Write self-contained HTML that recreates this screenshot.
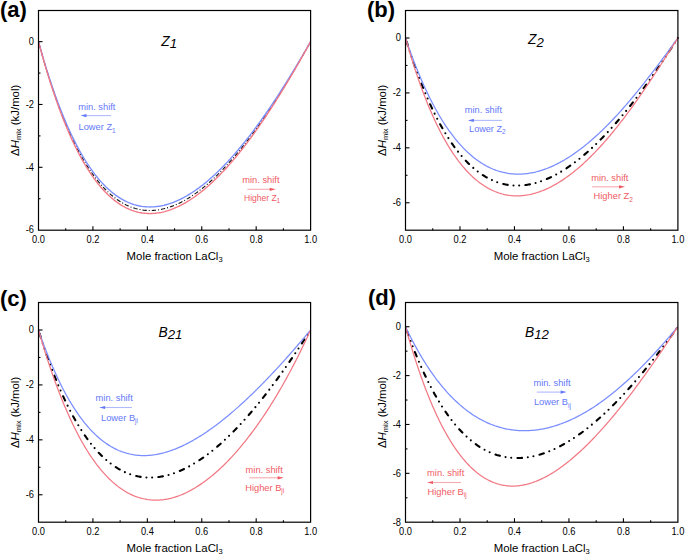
<!DOCTYPE html>
<html><head><meta charset="utf-8"><style>
html,body{margin:0;padding:0;background:#fff;}
svg{display:block;}
text{font-family:"Liberation Sans", sans-serif;}
.tl{font-size:10.2px;fill:#000;}
.at{font-size:11.4px;fill:#000;}
.pl{font-size:22px;font-weight:bold;fill:#000;}
.tt{font-size:13.8px;font-style:italic;fill:#000;}
.an{}
</style></head><body>
<svg width="685" height="556" viewBox="0 0 685 556">
<rect width="685" height="556" fill="#fff"/>
<polyline points="38.50,41.65 39.64,45.84 40.78,49.95 41.92,54.00 43.05,57.97 44.19,61.88 45.33,65.72 46.47,69.49 47.61,73.19 48.75,76.83 49.88,80.41 51.02,83.92 52.16,87.36 53.30,90.75 54.44,94.07 55.58,97.33 56.72,100.53 57.85,103.67 58.99,106.75 60.13,109.78 61.27,112.74 62.41,115.65 63.55,118.50 64.69,121.30 65.82,124.04 66.96,126.72 68.10,129.36 69.24,131.93 70.38,134.46 71.52,136.94 72.65,139.36 73.79,141.73 74.93,144.05 76.07,146.32 77.21,148.55 78.35,150.72 79.49,152.85 80.62,154.93 81.76,156.96 82.90,158.95 84.04,160.89 85.18,162.79 86.32,164.64 87.46,166.44 88.59,168.21 89.73,169.93 90.87,171.60 92.01,173.24 93.15,174.83 94.29,176.39 95.42,177.90 96.56,179.37 97.70,180.80 98.84,182.19 99.98,183.55 101.12,184.86 102.26,186.14 103.39,187.38 104.53,188.58 105.67,189.75 106.81,190.88 107.95,191.97 109.09,193.03 110.23,194.05 111.36,195.04 112.50,195.99 113.64,196.91 114.78,197.80 115.92,198.66 117.06,199.48 118.19,200.26 119.33,201.02 120.47,201.75 121.61,202.44 122.75,203.10 123.89,203.73 125.03,204.34 126.16,204.91 127.30,205.45 128.44,205.96 129.58,206.44 130.72,206.90 131.86,207.32 132.99,207.72 134.13,208.09 135.27,208.44 136.41,208.75 137.55,209.04 138.69,209.30 139.83,209.54 140.96,209.75 142.10,209.93 143.24,210.09 144.38,210.22 145.52,210.33 146.66,210.41 147.80,210.47 148.93,210.50 150.07,210.51 151.21,210.49 152.35,210.46 153.49,210.39 154.63,210.31 155.76,210.20 156.90,210.07 158.04,209.92 159.18,209.74 160.32,209.54 161.46,209.32 162.60,209.08 163.73,208.82 164.87,208.53 166.01,208.23 167.15,207.90 168.29,207.55 169.43,207.18 170.57,206.79 171.70,206.39 172.84,205.96 173.98,205.51 175.12,205.04 176.26,204.55 177.40,204.04 178.53,203.51 179.67,202.97 180.81,202.40 181.95,201.82 183.09,201.22 184.23,200.59 185.37,199.95 186.50,199.30 187.64,198.62 188.78,197.93 189.92,197.21 191.06,196.49 192.20,195.74 193.34,194.97 194.47,194.19 195.61,193.39 196.75,192.58 197.89,191.74 199.03,190.89 200.17,190.03 201.30,189.14 202.44,188.24 203.58,187.33 204.72,186.39 205.86,185.44 207.00,184.48 208.14,183.50 209.27,182.50 210.41,181.49 211.55,180.46 212.69,179.42 213.83,178.36 214.97,177.28 216.11,176.19 217.24,175.09 218.38,173.97 219.52,172.83 220.66,171.68 221.80,170.52 222.94,169.34 224.07,168.15 225.21,166.94 226.35,165.72 227.49,164.48 228.63,163.23 229.77,161.96 230.91,160.68 232.04,159.39 233.18,158.08 234.32,156.76 235.46,155.43 236.60,154.08 237.74,152.72 238.87,151.34 240.01,149.95 241.15,148.55 242.29,147.13 243.43,145.71 244.57,144.26 245.71,142.81 246.84,141.34 247.98,139.86 249.12,138.37 250.26,136.86 251.40,135.35 252.54,133.82 253.68,132.27 254.81,130.72 255.95,129.15 257.09,127.57 258.23,125.98 259.37,124.38 260.51,122.76 261.64,121.14 262.78,119.50 263.92,117.85 265.06,116.19 266.20,114.52 267.34,112.83 268.48,111.14 269.61,109.43 270.75,107.71 271.89,105.99 273.03,104.25 274.17,102.50 275.31,100.74 276.45,98.97 277.58,97.19 278.72,95.40 279.86,93.60 281.00,91.79 282.14,89.97 283.28,88.14 284.41,86.30 285.55,84.45 286.69,82.59 287.83,80.73 288.97,78.85 290.11,76.97 291.25,75.07 292.38,73.17 293.52,71.26 294.66,69.34 295.80,67.41 296.94,65.47 298.08,63.53 299.22,61.57 300.35,59.61 301.49,57.65 302.63,55.67 303.77,53.69 304.91,51.70 306.05,49.70 307.18,47.70 308.32,45.69 309.46,43.67 310.60,41.65" fill="none" stroke="#111" stroke-width="1.1" stroke-dasharray="4.3 2 1 2" stroke-dashoffset="-2.3"/>
<polyline points="38.50,41.65 39.64,45.75 40.78,49.78 41.92,53.74 43.05,57.63 44.19,61.45 45.33,65.21 46.47,68.90 47.61,72.53 48.75,76.09 49.88,79.59 51.02,83.03 52.16,86.40 53.30,89.72 54.44,92.97 55.58,96.16 56.72,99.29 57.85,102.37 58.99,105.39 60.13,108.34 61.27,111.25 62.41,114.09 63.55,116.89 64.69,119.62 65.82,122.31 66.96,124.94 68.10,127.51 69.24,130.04 70.38,132.51 71.52,134.93 72.65,137.31 73.79,139.63 74.93,141.90 76.07,144.13 77.21,146.30 78.35,148.43 79.49,150.51 80.62,152.55 81.76,154.54 82.90,156.49 84.04,158.39 85.18,160.24 86.32,162.05 87.46,163.82 88.59,165.55 89.73,167.23 90.87,168.87 92.01,170.48 93.15,172.04 94.29,173.56 95.42,175.04 96.56,176.48 97.70,177.88 98.84,179.24 99.98,180.57 101.12,181.85 102.26,183.10 103.39,184.32 104.53,185.50 105.67,186.64 106.81,187.74 107.95,188.81 109.09,189.85 110.23,190.85 111.36,191.82 112.50,192.75 113.64,193.65 114.78,194.52 115.92,195.36 117.06,196.16 118.19,196.93 119.33,197.67 120.47,198.38 121.61,199.06 122.75,199.71 123.89,200.33 125.03,200.92 126.16,201.48 127.30,202.01 128.44,202.51 129.58,202.98 130.72,203.43 131.86,203.85 132.99,204.24 134.13,204.60 135.27,204.93 136.41,205.24 137.55,205.52 138.69,205.78 139.83,206.01 140.96,206.22 142.10,206.40 143.24,206.55 144.38,206.68 145.52,206.78 146.66,206.86 147.80,206.92 148.93,206.95 150.07,206.96 151.21,206.95 152.35,206.91 153.49,206.85 154.63,206.77 155.76,206.66 156.90,206.53 158.04,206.38 159.18,206.21 160.32,206.02 161.46,205.80 162.60,205.56 163.73,205.31 164.87,205.03 166.01,204.73 167.15,204.41 168.29,204.07 169.43,203.71 170.57,203.33 171.70,202.93 172.84,202.51 173.98,202.07 175.12,201.61 176.26,201.13 177.40,200.63 178.53,200.12 179.67,199.58 180.81,199.03 181.95,198.46 183.09,197.87 184.23,197.26 185.37,196.63 186.50,195.99 187.64,195.32 188.78,194.64 189.92,193.95 191.06,193.23 192.20,192.50 193.34,191.75 194.47,190.99 195.61,190.21 196.75,189.41 197.89,188.59 199.03,187.76 200.17,186.91 201.30,186.04 202.44,185.16 203.58,184.27 204.72,183.35 205.86,182.42 207.00,181.48 208.14,180.52 209.27,179.54 210.41,178.55 211.55,177.55 212.69,176.52 213.83,175.49 214.97,174.44 216.11,173.37 217.24,172.29 218.38,171.19 219.52,170.08 220.66,168.95 221.80,167.81 222.94,166.66 224.07,165.49 225.21,164.31 226.35,163.11 227.49,161.90 228.63,160.67 229.77,159.44 230.91,158.18 232.04,156.92 233.18,155.64 234.32,154.34 235.46,153.04 236.60,151.72 237.74,150.38 238.87,149.04 240.01,147.68 241.15,146.30 242.29,144.92 243.43,143.52 244.57,142.11 245.71,140.68 246.84,139.25 247.98,137.80 249.12,136.34 250.26,134.86 251.40,133.38 252.54,131.88 253.68,130.37 254.81,128.85 255.95,127.31 257.09,125.77 258.23,124.21 259.37,122.64 260.51,121.06 261.64,119.47 262.78,117.86 263.92,116.25 265.06,114.62 266.20,112.99 267.34,111.34 268.48,109.68 269.61,108.01 270.75,106.33 271.89,104.64 273.03,102.93 274.17,101.22 275.31,99.50 276.45,97.77 277.58,96.03 278.72,94.27 279.86,92.51 281.00,90.74 282.14,88.96 283.28,87.16 284.41,85.36 285.55,83.55 286.69,81.74 287.83,79.91 288.97,78.07 290.11,76.22 291.25,74.37 292.38,72.51 293.52,70.63 294.66,68.75 295.80,66.87 296.94,64.97 298.08,63.07 299.22,61.16 300.35,59.24 301.49,57.31 302.63,55.38 303.77,53.44 304.91,51.49 306.05,49.53 307.18,47.57 308.32,45.60 309.46,43.63 310.60,41.65" fill="none" stroke="#7A8EFF" stroke-width="1.35"/>
<polyline points="38.50,41.65 39.64,45.91 40.78,50.10 41.92,54.22 43.05,58.27 44.19,62.24 45.33,66.15 46.47,69.99 47.61,73.76 48.75,77.47 49.88,81.10 51.02,84.68 52.16,88.19 53.30,91.63 54.44,95.01 55.58,98.33 56.72,101.59 57.85,104.79 58.99,107.92 60.13,111.00 61.27,114.02 62.41,116.98 63.55,119.88 64.69,122.73 65.82,125.52 66.96,128.25 68.10,130.93 69.24,133.56 70.38,136.13 71.52,138.65 72.65,141.12 73.79,143.53 74.93,145.90 76.07,148.21 77.21,150.47 78.35,152.69 79.49,154.85 80.62,156.97 81.76,159.04 82.90,161.06 84.04,163.04 85.18,164.97 86.32,166.85 87.46,168.69 88.59,170.48 89.73,172.24 90.87,173.94 92.01,175.61 93.15,177.23 94.29,178.81 95.42,180.35 96.56,181.85 97.70,183.30 98.84,184.72 99.98,186.10 101.12,187.44 102.26,188.74 103.39,190.00 104.53,191.23 105.67,192.41 106.81,193.56 107.95,194.68 109.09,195.75 110.23,196.79 111.36,197.80 112.50,198.77 113.64,199.71 114.78,200.61 115.92,201.48 117.06,202.32 118.19,203.12 119.33,203.89 120.47,204.63 121.61,205.33 122.75,206.01 123.89,206.65 125.03,207.26 126.16,207.85 127.30,208.40 128.44,208.92 129.58,209.41 130.72,209.87 131.86,210.31 132.99,210.71 134.13,211.09 135.27,211.44 136.41,211.76 137.55,212.05 138.69,212.32 139.83,212.56 140.96,212.77 142.10,212.96 143.24,213.12 144.38,213.25 145.52,213.36 146.66,213.45 147.80,213.50 148.93,213.54 150.07,213.55 151.21,213.53 152.35,213.49 153.49,213.43 154.63,213.34 155.76,213.23 156.90,213.10 158.04,212.94 159.18,212.77 160.32,212.56 161.46,212.34 162.60,212.09 163.73,211.83 164.87,211.54 166.01,211.22 167.15,210.89 168.29,210.54 169.43,210.16 170.57,209.77 171.70,209.35 172.84,208.91 173.98,208.46 175.12,207.98 176.26,207.48 177.40,206.97 178.53,206.43 179.67,205.87 180.81,205.30 181.95,204.70 183.09,204.09 184.23,203.46 185.37,202.80 186.50,202.13 187.64,201.45 188.78,200.74 189.92,200.01 191.06,199.27 192.20,198.51 193.34,197.73 194.47,196.94 195.61,196.12 196.75,195.29 197.89,194.44 199.03,193.58 200.17,192.70 201.30,191.80 202.44,190.88 203.58,189.95 204.72,189.00 205.86,188.03 207.00,187.05 208.14,186.05 209.27,185.04 210.41,184.01 211.55,182.96 212.69,181.90 213.83,180.82 214.97,179.72 216.11,178.62 217.24,177.49 218.38,176.35 219.52,175.20 220.66,174.03 221.80,172.84 222.94,171.64 224.07,170.42 225.21,169.19 226.35,167.95 227.49,166.69 228.63,165.42 229.77,164.13 230.91,162.83 232.04,161.51 233.18,160.18 234.32,158.83 235.46,157.47 236.60,156.10 237.74,154.71 238.87,153.31 240.01,151.90 241.15,150.47 242.29,149.03 243.43,147.58 244.57,146.11 245.71,144.63 246.84,143.14 247.98,141.63 249.12,140.11 250.26,138.58 251.40,137.03 252.54,135.47 253.68,133.90 254.81,132.32 255.95,130.73 257.09,129.12 258.23,127.50 259.37,125.87 260.51,124.22 261.64,122.57 262.78,120.90 263.92,119.22 265.06,117.53 266.20,115.83 267.34,114.11 268.48,112.39 269.61,110.65 270.75,108.90 271.89,107.15 273.03,105.38 274.17,103.60 275.31,101.80 276.45,100.00 277.58,98.19 278.72,96.37 279.86,94.54 281.00,92.69 282.14,90.84 283.28,88.98 284.41,87.11 285.55,85.22 286.69,83.33 287.83,81.43 288.97,79.52 290.11,77.60 291.25,75.67 292.38,73.74 293.52,71.79 294.66,69.83 295.80,67.87 296.94,65.90 298.08,63.92 299.22,61.93 300.35,59.94 301.49,57.93 302.63,55.92 303.77,53.91 304.91,51.88 306.05,49.85 307.18,47.81 308.32,45.76 309.46,43.71 310.60,41.65" fill="none" stroke="#F27884" stroke-width="1.35"/>
<rect x="38.5" y="10.5" width="272.1" height="219.7" fill="none" stroke="#000" stroke-width="1.2"/>
<text transform="translate(38.50,242.7) scale(0.91,1)" text-anchor="middle" class="tl">0.0</text>
<line x1="65.71" y1="230.2" x2="65.71" y2="228.2" stroke="#000" stroke-width="1.1"/>
<line x1="92.92" y1="230.2" x2="92.92" y2="226.2" stroke="#000" stroke-width="1.1"/>
<text transform="translate(92.92,242.7) scale(0.91,1)" text-anchor="middle" class="tl">0.2</text>
<line x1="120.13" y1="230.2" x2="120.13" y2="228.2" stroke="#000" stroke-width="1.1"/>
<line x1="147.34" y1="230.2" x2="147.34" y2="226.2" stroke="#000" stroke-width="1.1"/>
<text transform="translate(147.34,242.7) scale(0.91,1)" text-anchor="middle" class="tl">0.4</text>
<line x1="174.55" y1="230.2" x2="174.55" y2="228.2" stroke="#000" stroke-width="1.1"/>
<line x1="201.76" y1="230.2" x2="201.76" y2="226.2" stroke="#000" stroke-width="1.1"/>
<text transform="translate(201.76,242.7) scale(0.91,1)" text-anchor="middle" class="tl">0.6</text>
<line x1="228.97" y1="230.2" x2="228.97" y2="228.2" stroke="#000" stroke-width="1.1"/>
<line x1="256.18" y1="230.2" x2="256.18" y2="226.2" stroke="#000" stroke-width="1.1"/>
<text transform="translate(256.18,242.7) scale(0.91,1)" text-anchor="middle" class="tl">0.8</text>
<line x1="283.39" y1="230.2" x2="283.39" y2="228.2" stroke="#000" stroke-width="1.1"/>
<text transform="translate(310.60,242.7) scale(0.91,1)" text-anchor="middle" class="tl">1.0</text>
<text transform="translate(33.9,233.44) scale(0.91,1)" text-anchor="end" class="tl">-6</text>
<line x1="38.5" y1="198.72" x2="40.5" y2="198.72" stroke="#000" stroke-width="1.1"/>
<line x1="38.5" y1="167.31" x2="42.5" y2="167.31" stroke="#000" stroke-width="1.1"/>
<text transform="translate(33.9,170.61) scale(0.91,1)" text-anchor="end" class="tl">-4</text>
<line x1="38.5" y1="135.90" x2="40.5" y2="135.90" stroke="#000" stroke-width="1.1"/>
<line x1="38.5" y1="104.48" x2="42.5" y2="104.48" stroke="#000" stroke-width="1.1"/>
<text transform="translate(33.9,107.78) scale(0.91,1)" text-anchor="end" class="tl">-2</text>
<line x1="38.5" y1="73.06" x2="40.5" y2="73.06" stroke="#000" stroke-width="1.1"/>
<line x1="38.5" y1="41.65" x2="42.5" y2="41.65" stroke="#000" stroke-width="1.1"/>
<text transform="translate(33.9,44.95) scale(0.91,1)" text-anchor="end" class="tl">0</text>
<text x="174.6" y="259.7" text-anchor="middle" class="at">Mole fraction LaCl<tspan dy="2.6" font-size="7.5">3</tspan></text>
<text transform="translate(18.7,120.3) rotate(-90)" text-anchor="middle" class="at">&#916;<tspan font-style="italic">H</tspan><tspan dy="2.6" font-size="7.5">mix</tspan><tspan dy="-2.6"> (kJ/mol)</tspan></text>
<polyline points="405.50,38.00 406.64,41.66 407.78,45.26 408.92,48.79 410.06,52.27 411.20,55.68 412.34,59.04 413.48,62.33 414.62,65.57 415.76,68.75 416.90,71.88 418.04,74.95 419.18,77.96 420.32,80.92 421.46,83.82 422.60,86.67 423.74,89.47 424.88,92.21 426.02,94.91 427.16,97.55 428.29,100.14 429.43,102.68 430.57,105.18 431.71,107.62 432.85,110.01 433.99,112.36 435.13,114.66 436.27,116.92 437.41,119.13 438.55,121.29 439.69,123.41 440.83,125.48 441.97,127.51 443.11,129.50 444.25,131.44 445.39,133.34 446.53,135.20 447.67,137.02 448.81,138.80 449.95,140.53 451.09,142.23 452.23,143.89 453.37,145.50 454.51,147.08 455.65,148.62 456.79,150.13 457.93,151.59 459.07,153.02 460.21,154.42 461.35,155.77 462.49,157.09 463.63,158.38 464.77,159.63 465.91,160.85 467.05,162.03 468.19,163.18 469.33,164.30 470.47,165.38 471.61,166.43 472.75,167.45 473.88,168.44 475.02,169.40 476.16,170.32 477.30,171.21 478.44,172.08 479.58,172.91 480.72,173.72 481.86,174.49 483.00,175.24 484.14,175.96 485.28,176.65 486.42,177.31 487.56,177.94 488.70,178.55 489.84,179.13 490.98,179.68 492.12,180.20 493.26,180.70 494.40,181.18 495.54,181.62 496.68,182.05 497.82,182.44 498.96,182.82 500.10,183.17 501.24,183.49 502.38,183.79 503.52,184.06 504.66,184.32 505.80,184.54 506.94,184.75 508.08,184.93 509.22,185.09 510.36,185.23 511.50,185.35 512.64,185.44 513.78,185.51 514.92,185.56 516.06,185.59 517.20,185.60 518.34,185.59 519.47,185.55 520.61,185.50 521.75,185.42 522.89,185.33 524.03,185.22 525.17,185.08 526.31,184.93 527.45,184.75 528.59,184.56 529.73,184.35 530.87,184.12 532.01,183.87 533.15,183.60 534.29,183.32 535.43,183.02 536.57,182.69 537.71,182.35 538.85,182.00 539.99,181.62 541.13,181.23 542.27,180.82 543.41,180.39 544.55,179.95 545.69,179.49 546.83,179.01 547.97,178.52 549.11,178.00 550.25,177.48 551.39,176.93 552.53,176.38 553.67,175.80 554.81,175.21 555.95,174.60 557.09,173.98 558.23,173.34 559.37,172.69 560.51,172.02 561.65,171.34 562.79,170.64 563.93,169.92 565.06,169.20 566.20,168.45 567.34,167.70 568.48,166.92 569.62,166.14 570.76,165.34 571.90,164.52 573.04,163.69 574.18,162.85 575.32,161.99 576.46,161.12 577.60,160.23 578.74,159.34 579.88,158.42 581.02,157.50 582.16,156.56 583.30,155.61 584.44,154.64 585.58,153.66 586.72,152.67 587.86,151.66 589.00,150.65 590.14,149.62 591.28,148.57 592.42,147.52 593.56,146.45 594.70,145.37 595.84,144.27 596.98,143.17 598.12,142.05 599.26,140.92 600.40,139.77 601.54,138.62 602.68,137.45 603.82,136.27 604.96,135.08 606.10,133.88 607.24,132.67 608.38,131.44 609.52,130.20 610.65,128.95 611.79,127.69 612.93,126.42 614.07,125.14 615.21,123.85 616.35,122.54 617.49,121.23 618.63,119.90 619.77,118.56 620.91,117.21 622.05,115.85 623.19,114.48 624.33,113.10 625.47,111.71 626.61,110.31 627.75,108.90 628.89,107.48 630.03,106.05 631.17,104.61 632.31,103.15 633.45,101.69 634.59,100.22 635.73,98.74 636.87,97.25 638.01,95.75 639.15,94.24 640.29,92.72 641.43,91.19 642.57,89.65 643.71,88.11 644.85,86.55 645.99,84.98 647.13,83.41 648.27,81.83 649.41,80.24 650.55,78.64 651.69,77.03 652.83,75.41 653.97,73.79 655.11,72.16 656.24,70.52 657.38,68.87 658.52,67.21 659.66,65.55 660.80,63.88 661.94,62.20 663.08,60.52 664.22,58.82 665.36,57.12 666.50,55.42 667.64,53.70 668.78,51.98 669.92,50.26 671.06,48.52 672.20,46.78 673.34,45.04 674.48,43.29 675.62,41.53 676.76,39.77 677.90,38.00" fill="none" stroke="#000" stroke-width="2.1" stroke-linecap="round" stroke-dasharray="4.6 5.8 0 5.7 0 6.25" stroke-dashoffset="-3.7"/>
<polyline points="405.50,38.00 406.64,41.35 407.78,44.65 408.92,47.89 410.06,51.07 411.20,54.20 412.34,57.27 413.48,60.29 414.62,63.25 415.76,66.17 416.90,69.03 418.04,71.83 419.18,74.59 420.32,77.30 421.46,79.96 422.60,82.57 423.74,85.13 424.88,87.64 426.02,90.10 427.16,92.52 428.29,94.89 429.43,97.22 430.57,99.50 431.71,101.74 432.85,103.93 433.99,106.08 435.13,108.19 436.27,110.25 437.41,112.28 438.55,114.26 439.69,116.20 440.83,118.10 441.97,119.96 443.11,121.78 444.25,123.56 445.39,125.31 446.53,127.01 447.67,128.68 448.81,130.32 449.95,131.91 451.09,133.47 452.23,134.99 453.37,136.48 454.51,137.93 455.65,139.35 456.79,140.74 457.93,142.09 459.07,143.41 460.21,144.69 461.35,145.94 462.49,147.16 463.63,148.35 464.77,149.51 465.91,150.63 467.05,151.73 468.19,152.79 469.33,153.83 470.47,154.83 471.61,155.81 472.75,156.76 473.88,157.68 475.02,158.57 476.16,159.43 477.30,160.26 478.44,161.07 479.58,161.85 480.72,162.61 481.86,163.33 483.00,164.03 484.14,164.71 485.28,165.36 486.42,165.98 487.56,166.58 488.70,167.15 489.84,167.70 490.98,168.23 492.12,168.73 493.26,169.21 494.40,169.66 495.54,170.09 496.68,170.50 497.82,170.88 498.96,171.24 500.10,171.58 501.24,171.90 502.38,172.20 503.52,172.47 504.66,172.72 505.80,172.95 506.94,173.16 508.08,173.35 509.22,173.51 510.36,173.66 511.50,173.79 512.64,173.89 513.78,173.98 514.92,174.05 516.06,174.09 517.20,174.12 518.34,174.13 519.47,174.12 520.61,174.09 521.75,174.04 522.89,173.97 524.03,173.88 525.17,173.78 526.31,173.65 527.45,173.51 528.59,173.35 529.73,173.17 530.87,172.98 532.01,172.77 533.15,172.54 534.29,172.29 535.43,172.03 536.57,171.74 537.71,171.45 538.85,171.13 539.99,170.80 541.13,170.45 542.27,170.09 543.41,169.71 544.55,169.31 545.69,168.90 546.83,168.47 547.97,168.02 549.11,167.56 550.25,167.08 551.39,166.59 552.53,166.08 553.67,165.56 554.81,165.02 555.95,164.47 557.09,163.90 558.23,163.32 559.37,162.72 560.51,162.11 561.65,161.48 562.79,160.84 563.93,160.18 565.06,159.51 566.20,158.83 567.34,158.13 568.48,157.41 569.62,156.69 570.76,155.94 571.90,155.19 573.04,154.42 574.18,153.64 575.32,152.84 576.46,152.03 577.60,151.21 578.74,150.37 579.88,149.52 581.02,148.65 582.16,147.78 583.30,146.89 584.44,145.99 585.58,145.07 586.72,144.14 587.86,143.20 589.00,142.25 590.14,141.28 591.28,140.30 592.42,139.31 593.56,138.31 594.70,137.30 595.84,136.27 596.98,135.23 598.12,134.18 599.26,133.12 600.40,132.04 601.54,130.95 602.68,129.86 603.82,128.75 604.96,127.63 606.10,126.50 607.24,125.35 608.38,124.20 609.52,123.03 610.65,121.86 611.79,120.67 612.93,119.47 614.07,118.27 615.21,117.05 616.35,115.82 617.49,114.58 618.63,113.33 619.77,112.07 620.91,110.80 622.05,109.53 623.19,108.24 624.33,106.94 625.47,105.63 626.61,104.32 627.75,102.99 628.89,101.66 630.03,100.31 631.17,98.96 632.31,97.60 633.45,96.23 634.59,94.85 635.73,93.47 636.87,92.07 638.01,90.67 639.15,89.26 640.29,87.84 641.43,86.42 642.57,84.99 643.71,83.55 644.85,82.10 645.99,80.65 647.13,79.19 648.27,77.73 649.41,76.25 650.55,74.78 651.69,73.29 652.83,71.80 653.97,70.31 655.11,68.81 656.24,67.30 657.38,65.79 658.52,64.27 659.66,62.75 660.80,61.23 661.94,59.70 663.08,58.17 664.22,56.63 665.36,55.09 666.50,53.55 667.64,52.00 668.78,50.46 669.92,48.90 671.06,47.35 672.20,45.80 673.34,44.24 674.48,42.68 675.62,41.12 676.76,39.56 677.90,38.00" fill="none" stroke="#7A8EFF" stroke-width="1.25"/>
<polyline points="405.50,38.00 406.64,42.00 407.78,45.94 408.92,49.80 410.06,53.59 411.20,57.31 412.34,60.97 413.48,64.55 414.62,68.07 415.76,71.53 416.90,74.92 418.04,78.24 419.18,81.51 420.32,84.71 421.46,87.85 422.60,90.92 423.74,93.94 424.88,96.90 426.02,99.80 427.16,102.65 428.29,105.43 429.43,108.17 430.57,110.84 431.71,113.46 432.85,116.03 433.99,118.55 435.13,121.01 436.27,123.42 437.41,125.78 438.55,128.09 439.69,130.35 440.83,132.56 441.97,134.72 443.11,136.83 444.25,138.90 445.39,140.92 446.53,142.90 447.67,144.83 448.81,146.71 449.95,148.55 451.09,150.35 452.23,152.10 453.37,153.81 454.51,155.48 455.65,157.11 456.79,158.70 457.93,160.25 459.07,161.76 460.21,163.23 461.35,164.66 462.49,166.05 463.63,167.40 464.77,168.72 465.91,170.00 467.05,171.24 468.19,172.45 469.33,173.63 470.47,174.76 471.61,175.87 472.75,176.94 473.88,177.97 475.02,178.97 476.16,179.94 477.30,180.88 478.44,181.78 479.58,182.66 480.72,183.50 481.86,184.31 483.00,185.09 484.14,185.84 485.28,186.56 486.42,187.25 487.56,187.91 488.70,188.55 489.84,189.15 490.98,189.73 492.12,190.28 493.26,190.80 494.40,191.29 495.54,191.76 496.68,192.20 497.82,192.61 498.96,193.00 500.10,193.36 501.24,193.70 502.38,194.01 503.52,194.29 504.66,194.56 505.80,194.79 506.94,195.01 508.08,195.20 509.22,195.36 510.36,195.50 511.50,195.62 512.64,195.72 513.78,195.79 514.92,195.84 516.06,195.87 517.20,195.87 518.34,195.86 519.47,195.82 520.61,195.76 521.75,195.68 522.89,195.58 524.03,195.45 525.17,195.31 526.31,195.14 527.45,194.96 528.59,194.75 529.73,194.53 530.87,194.28 532.01,194.02 533.15,193.73 534.29,193.43 535.43,193.10 536.57,192.76 537.71,192.40 538.85,192.02 539.99,191.62 541.13,191.20 542.27,190.76 543.41,190.31 544.55,189.83 545.69,189.34 546.83,188.83 547.97,188.31 549.11,187.76 550.25,187.20 551.39,186.62 552.53,186.02 553.67,185.40 554.81,184.77 555.95,184.12 557.09,183.46 558.23,182.77 559.37,182.07 560.51,181.36 561.65,180.62 562.79,179.87 563.93,179.11 565.06,178.33 566.20,177.53 567.34,176.71 568.48,175.88 569.62,175.04 570.76,174.17 571.90,173.30 573.04,172.40 574.18,171.49 575.32,170.57 576.46,169.63 577.60,168.67 578.74,167.70 579.88,166.72 581.02,165.72 582.16,164.70 583.30,163.67 584.44,162.63 585.58,161.57 586.72,160.49 587.86,159.41 589.00,158.30 590.14,157.19 591.28,156.06 592.42,154.91 593.56,153.75 594.70,152.58 595.84,151.39 596.98,150.19 598.12,148.97 599.26,147.75 600.40,146.50 601.54,145.25 602.68,143.98 603.82,142.70 604.96,141.41 606.10,140.10 607.24,138.78 608.38,137.45 609.52,136.10 610.65,134.74 611.79,133.37 612.93,131.99 614.07,130.60 615.21,129.19 616.35,127.77 617.49,126.34 618.63,124.90 619.77,123.44 620.91,121.98 622.05,120.50 623.19,119.02 624.33,117.52 625.47,116.01 626.61,114.49 627.75,112.96 628.89,111.42 630.03,109.86 631.17,108.30 632.31,106.73 633.45,105.15 634.59,103.56 635.73,101.96 636.87,100.35 638.01,98.73 639.15,97.10 640.29,95.47 641.43,93.82 642.57,92.17 643.71,90.51 644.85,88.84 645.99,87.16 647.13,85.47 648.27,83.78 649.41,82.08 650.55,80.38 651.69,78.66 652.83,76.94 653.97,75.22 655.11,73.49 656.24,71.75 657.38,70.01 658.52,68.26 659.66,66.50 660.80,64.75 661.94,62.98 663.08,61.22 664.22,59.45 665.36,57.67 666.50,55.89 667.64,54.11 668.78,52.33 669.92,50.54 671.06,48.76 672.20,46.97 673.34,45.17 674.48,43.38 675.62,41.59 676.76,39.79 677.90,38.00" fill="none" stroke="#F27884" stroke-width="1.25"/>
<rect x="405.5" y="10.5" width="272.4" height="219.7" fill="none" stroke="#000" stroke-width="1.2"/>
<text transform="translate(405.50,242.7) scale(0.91,1)" text-anchor="middle" class="tl">0.0</text>
<line x1="432.74" y1="230.2" x2="432.74" y2="228.2" stroke="#000" stroke-width="1.1"/>
<line x1="459.98" y1="230.2" x2="459.98" y2="226.2" stroke="#000" stroke-width="1.1"/>
<text transform="translate(459.98,242.7) scale(0.91,1)" text-anchor="middle" class="tl">0.2</text>
<line x1="487.22" y1="230.2" x2="487.22" y2="228.2" stroke="#000" stroke-width="1.1"/>
<line x1="514.46" y1="230.2" x2="514.46" y2="226.2" stroke="#000" stroke-width="1.1"/>
<text transform="translate(514.46,242.7) scale(0.91,1)" text-anchor="middle" class="tl">0.4</text>
<line x1="541.70" y1="230.2" x2="541.70" y2="228.2" stroke="#000" stroke-width="1.1"/>
<line x1="568.94" y1="230.2" x2="568.94" y2="226.2" stroke="#000" stroke-width="1.1"/>
<text transform="translate(568.94,242.7) scale(0.91,1)" text-anchor="middle" class="tl">0.6</text>
<line x1="596.18" y1="230.2" x2="596.18" y2="228.2" stroke="#000" stroke-width="1.1"/>
<line x1="623.42" y1="230.2" x2="623.42" y2="226.2" stroke="#000" stroke-width="1.1"/>
<text transform="translate(623.42,242.7) scale(0.91,1)" text-anchor="middle" class="tl">0.8</text>
<line x1="650.66" y1="230.2" x2="650.66" y2="228.2" stroke="#000" stroke-width="1.1"/>
<text transform="translate(677.90,242.7) scale(0.91,1)" text-anchor="middle" class="tl">1.0</text>
<line x1="405.5" y1="202.76" x2="409.5" y2="202.76" stroke="#000" stroke-width="1.1"/>
<text transform="translate(400.9,206.06) scale(0.91,1)" text-anchor="end" class="tl">-6</text>
<line x1="405.5" y1="175.30" x2="407.5" y2="175.30" stroke="#000" stroke-width="1.1"/>
<line x1="405.5" y1="147.84" x2="409.5" y2="147.84" stroke="#000" stroke-width="1.1"/>
<text transform="translate(400.9,151.14) scale(0.91,1)" text-anchor="end" class="tl">-4</text>
<line x1="405.5" y1="120.38" x2="407.5" y2="120.38" stroke="#000" stroke-width="1.1"/>
<line x1="405.5" y1="92.92" x2="409.5" y2="92.92" stroke="#000" stroke-width="1.1"/>
<text transform="translate(400.9,96.22) scale(0.91,1)" text-anchor="end" class="tl">-2</text>
<line x1="405.5" y1="65.46" x2="407.5" y2="65.46" stroke="#000" stroke-width="1.1"/>
<line x1="405.5" y1="38.00" x2="409.5" y2="38.00" stroke="#000" stroke-width="1.1"/>
<text transform="translate(400.9,41.30) scale(0.91,1)" text-anchor="end" class="tl">0</text>
<text x="541.7" y="259.7" text-anchor="middle" class="at">Mole fraction LaCl<tspan dy="2.6" font-size="7.5">3</tspan></text>
<text transform="translate(385.7,120.3) rotate(-90)" text-anchor="middle" class="at">&#916;<tspan font-style="italic">H</tspan><tspan dy="2.6" font-size="7.5">mix</tspan><tspan dy="-2.6"> (kJ/mol)</tspan></text>
<polyline points="38.50,330.00 39.64,333.66 40.78,337.26 41.92,340.79 43.05,344.27 44.19,347.68 45.33,351.04 46.47,354.33 47.61,357.57 48.75,360.75 49.88,363.88 51.02,366.95 52.16,369.96 53.30,372.92 54.44,375.82 55.58,378.67 56.72,381.47 57.85,384.21 58.99,386.91 60.13,389.55 61.27,392.14 62.41,394.68 63.55,397.18 64.69,399.62 65.82,402.01 66.96,404.36 68.10,406.66 69.24,408.92 70.38,411.13 71.52,413.29 72.65,415.41 73.79,417.48 74.93,419.51 76.07,421.50 77.21,423.44 78.35,425.34 79.49,427.20 80.62,429.02 81.76,430.80 82.90,432.53 84.04,434.23 85.18,435.89 86.32,437.50 87.46,439.08 88.59,440.62 89.73,442.13 90.87,443.59 92.01,445.02 93.15,446.42 94.29,447.77 95.42,449.09 96.56,450.38 97.70,451.63 98.84,452.85 99.98,454.03 101.12,455.18 102.26,456.30 103.39,457.38 104.53,458.43 105.67,459.45 106.81,460.44 107.95,461.40 109.09,462.32 110.23,463.21 111.36,464.08 112.50,464.91 113.64,465.72 114.78,466.49 115.92,467.24 117.06,467.96 118.19,468.65 119.33,469.31 120.47,469.94 121.61,470.55 122.75,471.13 123.89,471.68 125.03,472.20 126.16,472.70 127.30,473.18 128.44,473.62 129.58,474.05 130.72,474.44 131.86,474.82 132.99,475.17 134.13,475.49 135.27,475.79 136.41,476.06 137.55,476.32 138.69,476.54 139.83,476.75 140.96,476.93 142.10,477.09 143.24,477.23 144.38,477.35 145.52,477.44 146.66,477.51 147.80,477.56 148.93,477.59 150.07,477.60 151.21,477.59 152.35,477.55 153.49,477.50 154.63,477.42 155.76,477.33 156.90,477.22 158.04,477.08 159.18,476.93 160.32,476.75 161.46,476.56 162.60,476.35 163.73,476.12 164.87,475.87 166.01,475.60 167.15,475.32 168.29,475.02 169.43,474.69 170.57,474.35 171.70,474.00 172.84,473.62 173.98,473.23 175.12,472.82 176.26,472.39 177.40,471.95 178.53,471.49 179.67,471.01 180.81,470.52 181.95,470.00 183.09,469.48 184.23,468.93 185.37,468.38 186.50,467.80 187.64,467.21 188.78,466.60 189.92,465.98 191.06,465.34 192.20,464.69 193.34,464.02 194.47,463.34 195.61,462.64 196.75,461.92 197.89,461.20 199.03,460.45 200.17,459.70 201.30,458.92 202.44,458.14 203.58,457.34 204.72,456.52 205.86,455.69 207.00,454.85 208.14,453.99 209.27,453.12 210.41,452.23 211.55,451.34 212.69,450.42 213.83,449.50 214.97,448.56 216.11,447.61 217.24,446.64 218.38,445.66 219.52,444.67 220.66,443.66 221.80,442.65 222.94,441.62 224.07,440.57 225.21,439.52 226.35,438.45 227.49,437.37 228.63,436.27 229.77,435.17 230.91,434.05 232.04,432.92 233.18,431.77 234.32,430.62 235.46,429.45 236.60,428.27 237.74,427.08 238.87,425.88 240.01,424.67 241.15,423.44 242.29,422.20 243.43,420.95 244.57,419.69 245.71,418.42 246.84,417.14 247.98,415.85 249.12,414.54 250.26,413.23 251.40,411.90 252.54,410.56 253.68,409.21 254.81,407.85 255.95,406.48 257.09,405.10 258.23,403.71 259.37,402.31 260.51,400.90 261.64,399.48 262.78,398.05 263.92,396.61 265.06,395.15 266.20,393.69 267.34,392.22 268.48,390.74 269.61,389.25 270.75,387.75 271.89,386.24 273.03,384.72 274.17,383.19 275.31,381.65 276.45,380.11 277.58,378.55 278.72,376.98 279.86,375.41 281.00,373.83 282.14,372.24 283.28,370.64 284.41,369.03 285.55,367.41 286.69,365.79 287.83,364.16 288.97,362.52 290.11,360.87 291.25,359.21 292.38,357.55 293.52,355.88 294.66,354.20 295.80,352.52 296.94,350.82 298.08,349.12 299.22,347.42 300.35,345.70 301.49,343.98 302.63,342.26 303.77,340.52 304.91,338.78 306.05,337.04 307.18,335.29 308.32,333.53 309.46,331.77 310.60,330.00" fill="none" stroke="#000" stroke-width="2.1" stroke-linecap="round" stroke-dasharray="4.6 5.8 0 5.7 0 6.25" stroke-dashoffset="-3.7"/>
<polyline points="38.50,330.00 39.64,333.29 40.78,336.53 41.92,339.70 43.05,342.82 44.19,345.88 45.33,348.89 46.47,351.84 47.61,354.74 48.75,357.58 49.88,360.37 51.02,363.11 52.16,365.80 53.30,368.43 54.44,371.02 55.58,373.55 56.72,376.03 57.85,378.47 58.99,380.85 60.13,383.19 61.27,385.48 62.41,387.72 63.55,389.92 64.69,392.07 65.82,394.18 66.96,396.24 68.10,398.25 69.24,400.23 70.38,402.15 71.52,404.04 72.65,405.89 73.79,407.69 74.93,409.45 76.07,411.17 77.21,412.85 78.35,414.49 79.49,416.09 80.62,417.66 81.76,419.18 82.90,420.67 84.04,422.12 85.18,423.53 86.32,424.90 87.46,426.24 88.59,427.55 89.73,428.81 90.87,430.05 92.01,431.25 93.15,432.41 94.29,433.54 95.42,434.64 96.56,435.70 97.70,436.74 98.84,437.74 99.98,438.71 101.12,439.65 102.26,440.55 103.39,441.43 104.53,442.28 105.67,443.09 106.81,443.88 107.95,444.64 109.09,445.37 110.23,446.07 111.36,446.75 112.50,447.39 113.64,448.01 114.78,448.60 115.92,449.17 117.06,449.71 118.19,450.22 119.33,450.71 120.47,451.17 121.61,451.61 122.75,452.02 123.89,452.41 125.03,452.78 126.16,453.12 127.30,453.44 128.44,453.73 129.58,454.00 130.72,454.25 131.86,454.48 132.99,454.69 134.13,454.87 135.27,455.03 136.41,455.17 137.55,455.29 138.69,455.39 139.83,455.47 140.96,455.53 142.10,455.57 143.24,455.59 144.38,455.58 145.52,455.57 146.66,455.53 147.80,455.47 148.93,455.39 150.07,455.30 151.21,455.19 152.35,455.06 153.49,454.91 154.63,454.75 155.76,454.57 156.90,454.37 158.04,454.15 159.18,453.92 160.32,453.67 161.46,453.41 162.60,453.13 163.73,452.84 164.87,452.52 166.01,452.20 167.15,451.86 168.29,451.50 169.43,451.13 170.57,450.74 171.70,450.34 172.84,449.93 173.98,449.50 175.12,449.06 176.26,448.60 177.40,448.13 178.53,447.65 179.67,447.16 180.81,446.65 181.95,446.12 183.09,445.59 184.23,445.04 185.37,444.48 186.50,443.91 187.64,443.32 188.78,442.73 189.92,442.12 191.06,441.50 192.20,440.87 193.34,440.22 194.47,439.57 195.61,438.90 196.75,438.23 197.89,437.54 199.03,436.84 200.17,436.13 201.30,435.41 202.44,434.68 203.58,433.94 204.72,433.19 205.86,432.42 207.00,431.65 208.14,430.87 209.27,430.08 210.41,429.28 211.55,428.47 212.69,427.65 213.83,426.82 214.97,425.98 216.11,425.13 217.24,424.27 218.38,423.40 219.52,422.53 220.66,421.64 221.80,420.75 222.94,419.85 224.07,418.94 225.21,418.02 226.35,417.09 227.49,416.15 228.63,415.21 229.77,414.26 230.91,413.30 232.04,412.33 233.18,411.35 234.32,410.37 235.46,409.38 236.60,408.38 237.74,407.37 238.87,406.35 240.01,405.33 241.15,404.30 242.29,403.26 243.43,402.22 244.57,401.17 245.71,400.11 246.84,399.04 247.98,397.97 249.12,396.89 250.26,395.80 251.40,394.71 252.54,393.61 253.68,392.50 254.81,391.39 255.95,390.27 257.09,389.14 258.23,388.01 259.37,386.87 260.51,385.73 261.64,384.58 262.78,383.42 263.92,382.25 265.06,381.08 266.20,379.91 267.34,378.73 268.48,377.54 269.61,376.34 270.75,375.14 271.89,373.94 273.03,372.73 274.17,371.51 275.31,370.29 276.45,369.06 277.58,367.83 278.72,366.59 279.86,365.35 281.00,364.10 282.14,362.85 283.28,361.59 284.41,360.32 285.55,359.05 286.69,357.78 287.83,356.50 288.97,355.22 290.11,353.93 291.25,352.64 292.38,351.34 293.52,350.04 294.66,348.73 295.80,347.42 296.94,346.10 298.08,344.78 299.22,343.46 300.35,342.13 301.49,340.80 302.63,339.46 303.77,338.12 304.91,336.78 306.05,335.43 307.18,334.08 308.32,332.72 309.46,331.36 310.60,330.00" fill="none" stroke="#7A8EFF" stroke-width="1.25"/>
<polyline points="38.50,330.00 39.64,333.94 40.78,337.82 41.92,341.63 43.05,345.39 44.19,349.09 45.33,352.73 46.47,356.31 47.61,359.84 48.75,363.30 49.88,366.71 51.02,370.07 52.16,373.37 53.30,376.62 54.44,379.81 55.58,382.95 56.72,386.03 57.85,389.06 58.99,392.04 60.13,394.97 61.27,397.85 62.41,400.68 63.55,403.45 64.69,406.18 65.82,408.86 66.96,411.49 68.10,414.07 69.24,416.60 70.38,419.09 71.52,421.53 72.65,423.92 73.79,426.27 74.93,428.57 76.07,430.83 77.21,433.05 78.35,435.22 79.49,437.34 80.62,439.43 81.76,441.47 82.90,443.46 84.04,445.42 85.18,447.34 86.32,449.21 87.46,451.04 88.59,452.84 89.73,454.59 90.87,456.30 92.01,457.98 93.15,459.62 94.29,461.22 95.42,462.78 96.56,464.30 97.70,465.79 98.84,467.24 99.98,468.65 101.12,470.03 102.26,471.37 103.39,472.68 104.53,473.95 105.67,475.19 106.81,476.39 107.95,477.56 109.09,478.70 110.23,479.80 111.36,480.87 112.50,481.91 113.64,482.91 114.78,483.89 115.92,484.83 117.06,485.74 118.19,486.62 119.33,487.47 120.47,488.29 121.61,489.08 122.75,489.84 123.89,490.57 125.03,491.27 126.16,491.94 127.30,492.59 128.44,493.20 129.58,493.79 130.72,494.35 131.86,494.88 132.99,495.39 134.13,495.87 135.27,496.32 136.41,496.74 137.55,497.14 138.69,497.52 139.83,497.86 140.96,498.19 142.10,498.48 143.24,498.75 144.38,499.00 145.52,499.22 146.66,499.42 147.80,499.60 148.93,499.75 150.07,499.87 151.21,499.98 152.35,500.06 153.49,500.11 154.63,500.15 155.76,500.16 156.90,500.15 158.04,500.11 159.18,500.06 160.32,499.98 161.46,499.88 162.60,499.76 163.73,499.62 164.87,499.45 166.01,499.27 167.15,499.06 168.29,498.84 169.43,498.59 170.57,498.32 171.70,498.04 172.84,497.73 173.98,497.40 175.12,497.05 176.26,496.69 177.40,496.30 178.53,495.89 179.67,495.47 180.81,495.02 181.95,494.56 183.09,494.07 184.23,493.57 185.37,493.05 186.50,492.51 187.64,491.96 188.78,491.38 189.92,490.79 191.06,490.17 192.20,489.54 193.34,488.89 194.47,488.23 195.61,487.54 196.75,486.84 197.89,486.12 199.03,485.38 200.17,484.63 201.30,483.86 202.44,483.07 203.58,482.26 204.72,481.44 205.86,480.60 207.00,479.74 208.14,478.86 209.27,477.97 210.41,477.06 211.55,476.13 212.69,475.19 213.83,474.23 214.97,473.25 216.11,472.26 217.24,471.25 218.38,470.22 219.52,469.18 220.66,468.12 221.80,467.04 222.94,465.95 224.07,464.84 225.21,463.71 226.35,462.57 227.49,461.41 228.63,460.23 229.77,459.04 230.91,457.83 232.04,456.61 233.18,455.37 234.32,454.11 235.46,452.83 236.60,451.54 237.74,450.23 238.87,448.91 240.01,447.57 241.15,446.21 242.29,444.84 243.43,443.45 244.57,442.04 245.71,440.62 246.84,439.18 247.98,437.72 249.12,436.24 250.26,434.75 251.40,433.25 252.54,431.72 253.68,430.18 254.81,428.62 255.95,427.05 257.09,425.45 258.23,423.84 259.37,422.22 260.51,420.57 261.64,418.91 262.78,417.24 263.92,415.54 265.06,413.83 266.20,412.10 267.34,410.35 268.48,408.58 269.61,406.80 270.75,405.00 271.89,403.18 273.03,401.34 274.17,399.49 275.31,397.61 276.45,395.72 277.58,393.81 278.72,391.88 279.86,389.94 281.00,387.97 282.14,385.99 283.28,383.98 284.41,381.96 285.55,379.92 286.69,377.86 287.83,375.78 288.97,373.68 290.11,371.57 291.25,369.43 292.38,367.27 293.52,365.10 294.66,362.90 295.80,360.68 296.94,358.45 298.08,356.19 299.22,353.91 300.35,351.62 301.49,349.30 302.63,346.96 303.77,344.60 304.91,342.22 306.05,339.82 307.18,337.40 308.32,334.95 309.46,332.49 310.60,330.00" fill="none" stroke="#F27884" stroke-width="1.25"/>
<rect x="38.5" y="302.5" width="272.1" height="219.7" fill="none" stroke="#000" stroke-width="1.2"/>
<text transform="translate(38.50,534.7) scale(0.91,1)" text-anchor="middle" class="tl">0.0</text>
<line x1="65.71" y1="522.2" x2="65.71" y2="520.2" stroke="#000" stroke-width="1.1"/>
<line x1="92.92" y1="522.2" x2="92.92" y2="518.2" stroke="#000" stroke-width="1.1"/>
<text transform="translate(92.92,534.7) scale(0.91,1)" text-anchor="middle" class="tl">0.2</text>
<line x1="120.13" y1="522.2" x2="120.13" y2="520.2" stroke="#000" stroke-width="1.1"/>
<line x1="147.34" y1="522.2" x2="147.34" y2="518.2" stroke="#000" stroke-width="1.1"/>
<text transform="translate(147.34,534.7) scale(0.91,1)" text-anchor="middle" class="tl">0.4</text>
<line x1="174.55" y1="522.2" x2="174.55" y2="520.2" stroke="#000" stroke-width="1.1"/>
<line x1="201.76" y1="522.2" x2="201.76" y2="518.2" stroke="#000" stroke-width="1.1"/>
<text transform="translate(201.76,534.7) scale(0.91,1)" text-anchor="middle" class="tl">0.6</text>
<line x1="228.97" y1="522.2" x2="228.97" y2="520.2" stroke="#000" stroke-width="1.1"/>
<line x1="256.18" y1="522.2" x2="256.18" y2="518.2" stroke="#000" stroke-width="1.1"/>
<text transform="translate(256.18,534.7) scale(0.91,1)" text-anchor="middle" class="tl">0.8</text>
<line x1="283.39" y1="522.2" x2="283.39" y2="520.2" stroke="#000" stroke-width="1.1"/>
<text transform="translate(310.60,534.7) scale(0.91,1)" text-anchor="middle" class="tl">1.0</text>
<line x1="38.5" y1="494.76" x2="42.5" y2="494.76" stroke="#000" stroke-width="1.1"/>
<text transform="translate(33.9,498.06) scale(0.91,1)" text-anchor="end" class="tl">-6</text>
<line x1="38.5" y1="467.30" x2="40.5" y2="467.30" stroke="#000" stroke-width="1.1"/>
<line x1="38.5" y1="439.84" x2="42.5" y2="439.84" stroke="#000" stroke-width="1.1"/>
<text transform="translate(33.9,443.14) scale(0.91,1)" text-anchor="end" class="tl">-4</text>
<line x1="38.5" y1="412.38" x2="40.5" y2="412.38" stroke="#000" stroke-width="1.1"/>
<line x1="38.5" y1="384.92" x2="42.5" y2="384.92" stroke="#000" stroke-width="1.1"/>
<text transform="translate(33.9,388.22) scale(0.91,1)" text-anchor="end" class="tl">-2</text>
<line x1="38.5" y1="357.46" x2="40.5" y2="357.46" stroke="#000" stroke-width="1.1"/>
<line x1="38.5" y1="330.00" x2="42.5" y2="330.00" stroke="#000" stroke-width="1.1"/>
<text transform="translate(33.9,333.30) scale(0.91,1)" text-anchor="end" class="tl">0</text>
<text x="174.6" y="551.7" text-anchor="middle" class="at">Mole fraction LaCl<tspan dy="2.6" font-size="7.5">3</tspan></text>
<text transform="translate(18.7,412.4) rotate(-90)" text-anchor="middle" class="at">&#916;<tspan font-style="italic">H</tspan><tspan dy="2.6" font-size="7.5">mix</tspan><tspan dy="-2.6"> (kJ/mol)</tspan></text>
<polyline points="405.50,326.73 406.64,329.99 407.78,333.19 408.92,336.33 410.06,339.43 411.20,342.46 412.34,345.45 413.48,348.38 414.62,351.26 415.76,354.09 416.90,356.88 418.04,359.61 419.18,362.29 420.32,364.92 421.46,367.50 422.60,370.04 423.74,372.53 424.88,374.97 426.02,377.37 427.16,379.72 428.29,382.03 429.43,384.29 430.57,386.51 431.71,388.68 432.85,390.81 433.99,392.90 435.13,394.95 436.27,396.95 437.41,398.92 438.55,400.84 439.69,402.73 440.83,404.57 441.97,406.38 443.11,408.15 444.25,409.88 445.39,411.57 446.53,413.22 447.67,414.84 448.81,416.42 449.95,417.97 451.09,419.48 452.23,420.95 453.37,422.39 454.51,423.80 455.65,425.17 456.79,426.51 457.93,427.81 459.07,429.08 460.21,430.32 461.35,431.53 462.49,432.70 463.63,433.85 464.77,434.96 465.91,436.05 467.05,437.10 468.19,438.12 469.33,439.12 470.47,440.08 471.61,441.01 472.75,441.92 473.88,442.80 475.02,443.65 476.16,444.47 477.30,445.27 478.44,446.04 479.58,446.78 480.72,447.50 481.86,448.19 483.00,448.85 484.14,449.49 485.28,450.10 486.42,450.69 487.56,451.25 488.70,451.79 489.84,452.31 490.98,452.80 492.12,453.27 493.26,453.71 494.40,454.13 495.54,454.53 496.68,454.91 497.82,455.26 498.96,455.59 500.10,455.90 501.24,456.19 502.38,456.46 503.52,456.70 504.66,456.93 505.80,457.13 506.94,457.31 508.08,457.48 509.22,457.62 510.36,457.74 511.50,457.85 512.64,457.93 513.78,457.99 514.92,458.04 516.06,458.06 517.20,458.07 518.34,458.06 519.47,458.03 520.61,457.98 521.75,457.91 522.89,457.83 524.03,457.73 525.17,457.61 526.31,457.47 527.45,457.32 528.59,457.15 529.73,456.96 530.87,456.75 532.01,456.53 533.15,456.30 534.29,456.04 535.43,455.77 536.57,455.48 537.71,455.18 538.85,454.86 539.99,454.53 541.13,454.18 542.27,453.82 543.41,453.44 544.55,453.04 545.69,452.63 546.83,452.21 547.97,451.77 549.11,451.31 550.25,450.84 551.39,450.36 552.53,449.86 553.67,449.35 554.81,448.82 555.95,448.28 557.09,447.73 558.23,447.16 559.37,446.58 560.51,445.99 561.65,445.38 562.79,444.76 563.93,444.12 565.06,443.47 566.20,442.81 567.34,442.14 568.48,441.45 569.62,440.75 570.76,440.04 571.90,439.31 573.04,438.57 574.18,437.82 575.32,437.06 576.46,436.29 577.60,435.50 578.74,434.70 579.88,433.89 581.02,433.06 582.16,432.23 583.30,431.38 584.44,430.52 585.58,429.65 586.72,428.77 587.86,427.87 589.00,426.97 590.14,426.05 591.28,425.12 592.42,424.18 593.56,423.23 594.70,422.27 595.84,421.29 596.98,420.31 598.12,419.32 599.26,418.31 600.40,417.29 601.54,416.26 602.68,415.23 603.82,414.18 604.96,413.12 606.10,412.05 607.24,410.97 608.38,409.88 609.52,408.78 610.65,407.67 611.79,406.54 612.93,405.41 614.07,404.27 615.21,403.12 616.35,401.96 617.49,400.79 618.63,399.61 619.77,398.42 620.91,397.22 622.05,396.01 623.19,394.79 624.33,393.56 625.47,392.32 626.61,391.08 627.75,389.82 628.89,388.56 630.03,387.28 631.17,386.00 632.31,384.71 633.45,383.41 634.59,382.10 635.73,380.78 636.87,379.45 638.01,378.12 639.15,376.77 640.29,375.42 641.43,374.06 642.57,372.69 643.71,371.32 644.85,369.93 645.99,368.54 647.13,367.14 648.27,365.73 649.41,364.31 650.55,362.89 651.69,361.46 652.83,360.02 653.97,358.58 655.11,357.13 656.24,355.67 657.38,354.20 658.52,352.73 659.66,351.25 660.80,349.76 661.94,348.26 663.08,346.76 664.22,345.26 665.36,343.75 666.50,342.23 667.64,340.70 668.78,339.17 669.92,337.64 671.06,336.09 672.20,334.55 673.34,332.99 674.48,331.44 675.62,329.87 676.76,328.30 677.90,326.73" fill="none" stroke="#000" stroke-width="2.1" stroke-linecap="round" stroke-dasharray="4.6 5.8 0 5.7 0 6.25" stroke-dashoffset="-4.7"/>
<polyline points="405.50,326.73 406.64,329.11 407.78,331.46 408.92,333.77 410.06,336.04 411.20,338.28 412.34,340.48 413.48,342.64 414.62,344.77 415.76,346.87 416.90,348.92 418.04,350.95 419.18,352.94 420.32,354.90 421.46,356.83 422.60,358.72 423.74,360.58 424.88,362.41 426.02,364.21 427.16,365.97 428.29,367.71 429.43,369.41 430.57,371.09 431.71,372.73 432.85,374.35 433.99,375.94 435.13,377.50 436.27,379.03 437.41,380.53 438.55,382.00 439.69,383.45 440.83,384.87 441.97,386.26 443.11,387.62 444.25,388.96 445.39,390.28 446.53,391.56 447.67,392.83 448.81,394.06 449.95,395.28 451.09,396.46 452.23,397.63 453.37,398.76 454.51,399.88 455.65,400.97 456.79,402.04 457.93,403.08 459.07,404.11 460.21,405.11 461.35,406.08 462.49,407.04 463.63,407.97 464.77,408.88 465.91,409.77 467.05,410.64 468.19,411.48 469.33,412.31 470.47,413.12 471.61,413.90 472.75,414.66 473.88,415.41 475.02,416.13 476.16,416.84 477.30,417.52 478.44,418.19 479.58,418.84 480.72,419.46 481.86,420.07 483.00,420.66 484.14,421.24 485.28,421.79 486.42,422.32 487.56,422.84 488.70,423.34 489.84,423.82 490.98,424.29 492.12,424.73 493.26,425.16 494.40,425.58 495.54,425.97 496.68,426.35 497.82,426.71 498.96,427.06 500.10,427.39 501.24,427.70 502.38,428.00 503.52,428.28 504.66,428.54 505.80,428.79 506.94,429.02 508.08,429.24 509.22,429.44 510.36,429.63 511.50,429.80 512.64,429.96 513.78,430.10 514.92,430.23 516.06,430.34 517.20,430.44 518.34,430.52 519.47,430.59 520.61,430.64 521.75,430.68 522.89,430.70 524.03,430.71 525.17,430.71 526.31,430.69 527.45,430.66 528.59,430.62 529.73,430.56 530.87,430.48 532.01,430.40 533.15,430.30 534.29,430.19 535.43,430.06 536.57,429.92 537.71,429.76 538.85,429.60 539.99,429.42 541.13,429.23 542.27,429.02 543.41,428.80 544.55,428.57 545.69,428.33 546.83,428.07 547.97,427.80 549.11,427.52 550.25,427.22 551.39,426.91 552.53,426.59 553.67,426.26 554.81,425.92 555.95,425.56 557.09,425.19 558.23,424.81 559.37,424.41 560.51,424.01 561.65,423.59 562.79,423.16 563.93,422.72 565.06,422.26 566.20,421.80 567.34,421.32 568.48,420.83 569.62,420.33 570.76,419.82 571.90,419.29 573.04,418.76 574.18,418.21 575.32,417.65 576.46,417.08 577.60,416.50 578.74,415.90 579.88,415.30 581.02,414.68 582.16,414.05 583.30,413.42 584.44,412.77 585.58,412.11 586.72,411.43 587.86,410.75 589.00,410.06 590.14,409.35 591.28,408.63 592.42,407.91 593.56,407.17 594.70,406.42 595.84,405.66 596.98,404.89 598.12,404.11 599.26,403.32 600.40,402.52 601.54,401.71 602.68,400.88 603.82,400.05 604.96,399.21 606.10,398.35 607.24,397.49 608.38,396.61 609.52,395.73 610.65,394.83 611.79,393.93 612.93,393.01 614.07,392.09 615.21,391.16 616.35,390.21 617.49,389.26 618.63,388.29 619.77,387.32 620.91,386.34 622.05,385.34 623.19,384.34 624.33,383.33 625.47,382.31 626.61,381.28 627.75,380.24 628.89,379.19 630.03,378.13 631.17,377.07 632.31,375.99 633.45,374.91 634.59,373.81 635.73,372.71 636.87,371.60 638.01,370.48 639.15,369.35 640.29,368.22 641.43,367.08 642.57,365.92 643.71,364.76 644.85,363.59 645.99,362.42 647.13,361.23 648.27,360.04 649.41,358.84 650.55,357.64 651.69,356.42 652.83,355.20 653.97,353.97 655.11,352.74 656.24,351.49 657.38,350.25 658.52,348.99 659.66,347.73 660.80,346.46 661.94,345.18 663.08,343.90 664.22,342.61 665.36,341.32 666.50,340.02 667.64,338.71 668.78,337.40 669.92,336.08 671.06,334.76 672.20,333.44 673.34,332.10 674.48,330.77 675.62,329.43 676.76,328.08 677.90,326.73" fill="none" stroke="#7A8EFF" stroke-width="1.25"/>
<polyline points="405.50,326.73 406.64,330.80 407.78,334.81 408.92,338.74 410.06,342.61 411.20,346.41 412.34,350.14 413.48,353.80 414.62,357.41 415.76,360.94 416.90,364.41 418.04,367.82 419.18,371.17 420.32,374.45 421.46,377.67 422.60,380.84 423.74,383.94 424.88,386.98 426.02,389.96 427.16,392.89 428.29,395.76 429.43,398.57 430.57,401.33 431.71,404.03 432.85,406.67 433.99,409.26 435.13,411.80 436.27,414.28 437.41,416.71 438.55,419.09 439.69,421.42 440.83,423.70 441.97,425.93 443.11,428.10 444.25,430.23 445.39,432.31 446.53,434.34 447.67,436.33 448.81,438.27 449.95,440.16 451.09,442.00 452.23,443.80 453.37,445.56 454.51,447.27 455.65,448.94 456.79,450.56 457.93,452.14 459.07,453.68 460.21,455.17 461.35,456.63 462.49,458.04 463.63,459.42 464.77,460.75 465.91,462.04 467.05,463.30 468.19,464.52 469.33,465.69 470.47,466.83 471.61,467.94 472.75,469.00 473.88,470.03 475.02,471.03 476.16,471.98 477.30,472.91 478.44,473.79 479.58,474.65 480.72,475.47 481.86,476.25 483.00,477.01 484.14,477.72 485.28,478.41 486.42,479.07 487.56,479.69 488.70,480.28 489.84,480.84 490.98,481.37 492.12,481.87 493.26,482.34 494.40,482.78 495.54,483.19 496.68,483.58 497.82,483.93 498.96,484.25 500.10,484.55 501.24,484.82 502.38,485.06 503.52,485.28 504.66,485.47 505.80,485.63 506.94,485.77 508.08,485.88 509.22,485.96 510.36,486.02 511.50,486.06 512.64,486.07 513.78,486.05 514.92,486.02 516.06,485.96 517.20,485.87 518.34,485.76 519.47,485.63 520.61,485.48 521.75,485.30 522.89,485.10 524.03,484.88 525.17,484.64 526.31,484.38 527.45,484.09 528.59,483.79 529.73,483.46 530.87,483.11 532.01,482.75 533.15,482.36 534.29,481.95 535.43,481.53 536.57,481.08 537.71,480.62 538.85,480.13 539.99,479.63 541.13,479.11 542.27,478.57 543.41,478.01 544.55,477.44 545.69,476.84 546.83,476.23 547.97,475.61 549.11,474.96 550.25,474.30 551.39,473.62 552.53,472.93 553.67,472.22 554.81,471.49 555.95,470.74 557.09,469.98 558.23,469.21 559.37,468.42 560.51,467.61 561.65,466.79 562.79,465.96 563.93,465.11 565.06,464.24 566.20,463.36 567.34,462.47 568.48,461.56 569.62,460.63 570.76,459.70 571.90,458.75 573.04,457.78 574.18,456.81 575.32,455.82 576.46,454.81 577.60,453.79 578.74,452.76 579.88,451.72 581.02,450.67 582.16,449.60 583.30,448.52 584.44,447.43 585.58,446.32 586.72,445.20 587.86,444.08 589.00,442.94 590.14,441.78 591.28,440.62 592.42,439.45 593.56,438.26 594.70,437.06 595.84,435.85 596.98,434.64 598.12,433.41 599.26,432.16 600.40,430.91 601.54,429.65 602.68,428.38 603.82,427.10 604.96,425.81 606.10,424.50 607.24,423.19 608.38,421.87 609.52,420.54 610.65,419.20 611.79,417.85 612.93,416.49 614.07,415.12 615.21,413.74 616.35,412.35 617.49,410.95 618.63,409.55 619.77,408.13 620.91,406.71 622.05,405.28 623.19,403.84 624.33,402.39 625.47,400.94 626.61,399.47 627.75,398.00 628.89,396.52 630.03,395.03 631.17,393.53 632.31,392.03 633.45,390.52 634.59,389.00 635.73,387.47 636.87,385.94 638.01,384.40 639.15,382.85 640.29,381.29 641.43,379.73 642.57,378.16 643.71,376.59 644.85,375.01 645.99,373.42 647.13,371.82 648.27,370.22 649.41,368.61 650.55,367.00 651.69,365.38 652.83,363.76 653.97,362.12 655.11,360.49 656.24,358.85 657.38,357.20 658.52,355.55 659.66,353.89 660.80,352.22 661.94,350.55 663.08,348.88 664.22,347.20 665.36,345.52 666.50,343.83 667.64,342.14 668.78,340.44 669.92,338.74 671.06,337.04 672.20,335.33 673.34,333.62 674.48,331.90 675.62,330.18 676.76,328.46 677.90,326.73" fill="none" stroke="#F27884" stroke-width="1.25"/>
<rect x="405.5" y="302.5" width="272.4" height="219.7" fill="none" stroke="#000" stroke-width="1.2"/>
<text transform="translate(405.50,534.7) scale(0.91,1)" text-anchor="middle" class="tl">0.0</text>
<line x1="432.74" y1="522.2" x2="432.74" y2="520.2" stroke="#000" stroke-width="1.1"/>
<line x1="459.98" y1="522.2" x2="459.98" y2="518.2" stroke="#000" stroke-width="1.1"/>
<text transform="translate(459.98,534.7) scale(0.91,1)" text-anchor="middle" class="tl">0.2</text>
<line x1="487.22" y1="522.2" x2="487.22" y2="520.2" stroke="#000" stroke-width="1.1"/>
<line x1="514.46" y1="522.2" x2="514.46" y2="518.2" stroke="#000" stroke-width="1.1"/>
<text transform="translate(514.46,534.7) scale(0.91,1)" text-anchor="middle" class="tl">0.4</text>
<line x1="541.70" y1="522.2" x2="541.70" y2="520.2" stroke="#000" stroke-width="1.1"/>
<line x1="568.94" y1="522.2" x2="568.94" y2="518.2" stroke="#000" stroke-width="1.1"/>
<text transform="translate(568.94,534.7) scale(0.91,1)" text-anchor="middle" class="tl">0.6</text>
<line x1="596.18" y1="522.2" x2="596.18" y2="520.2" stroke="#000" stroke-width="1.1"/>
<line x1="623.42" y1="522.2" x2="623.42" y2="518.2" stroke="#000" stroke-width="1.1"/>
<text transform="translate(623.42,534.7) scale(0.91,1)" text-anchor="middle" class="tl">0.8</text>
<line x1="650.66" y1="522.2" x2="650.66" y2="520.2" stroke="#000" stroke-width="1.1"/>
<text transform="translate(677.90,534.7) scale(0.91,1)" text-anchor="middle" class="tl">1.0</text>
<text transform="translate(400.9,525.51) scale(0.91,1)" text-anchor="end" class="tl">-8</text>
<line x1="405.5" y1="497.77" x2="407.5" y2="497.77" stroke="#000" stroke-width="1.1"/>
<line x1="405.5" y1="473.34" x2="409.5" y2="473.34" stroke="#000" stroke-width="1.1"/>
<text transform="translate(400.9,476.64) scale(0.91,1)" text-anchor="end" class="tl">-6</text>
<line x1="405.5" y1="448.91" x2="407.5" y2="448.91" stroke="#000" stroke-width="1.1"/>
<line x1="405.5" y1="424.47" x2="409.5" y2="424.47" stroke="#000" stroke-width="1.1"/>
<text transform="translate(400.9,427.77) scale(0.91,1)" text-anchor="end" class="tl">-4</text>
<line x1="405.5" y1="400.04" x2="407.5" y2="400.04" stroke="#000" stroke-width="1.1"/>
<line x1="405.5" y1="375.60" x2="409.5" y2="375.60" stroke="#000" stroke-width="1.1"/>
<text transform="translate(400.9,378.90) scale(0.91,1)" text-anchor="end" class="tl">-2</text>
<line x1="405.5" y1="351.17" x2="407.5" y2="351.17" stroke="#000" stroke-width="1.1"/>
<line x1="405.5" y1="326.73" x2="409.5" y2="326.73" stroke="#000" stroke-width="1.1"/>
<text transform="translate(400.9,330.03) scale(0.91,1)" text-anchor="end" class="tl">0</text>
<text x="541.7" y="551.7" text-anchor="middle" class="at">Mole fraction LaCl<tspan dy="2.6" font-size="7.5">3</tspan></text>
<text transform="translate(385.7,412.4) rotate(-90)" text-anchor="middle" class="at">&#916;<tspan font-style="italic">H</tspan><tspan dy="2.6" font-size="7.5">mix</tspan><tspan dy="-2.6"> (kJ/mol)</tspan></text>
<text x="0" y="16.8" class="pl">(a)</text>
<text x="367" y="17.0" class="pl">(b)</text>
<text x="0" y="305.7" class="pl">(c)</text>
<text x="368" y="305.3" class="pl">(d)</text>
<text x="161.2" y="45.5" class="tt">Z<tspan dy="2.4" font-size="13.2">1</tspan></text>
<text x="528" y="44.3" class="tt">Z<tspan dy="2.4" font-size="13.2">2</tspan></text>
<text x="158.5" y="336.6" class="tt">B<tspan dy="2.4" font-size="13.2">21</tspan></text>
<text x="525" y="336.6" class="tt">B<tspan dy="2.4" font-size="13.2">12</tspan></text>
<text x="78.2" y="110.1" class="an" style="font-size:9.3px" fill="#6478FA">min. shift</text>
<text x="78.5" y="130" class="an" style="font-size:9.3px" fill="#6478FA">Lower Z<tspan dy="2.6" font-size="6.5">1</tspan></text>
<line x1="85.5" y1="115.6" x2="111" y2="115.6" stroke="#6478FA" stroke-width="1.1" stroke-opacity="0.5"/>
<polygon points="80.5,115.6 86.5,114.0 86.5,117.19999999999999" fill="#6478FA"/>
<text x="242.3" y="183.3" class="an" style="font-size:9.3px" fill="#F05A64">min. shift</text>
<text x="244.0" y="200.5" class="an" style="font-size:8.5px" fill="#F05A64">Higher Z<tspan dy="2.6" font-size="6.5">1</tspan></text>
<line x1="247.3" y1="189.3" x2="270.7" y2="189.3" stroke="#F05A64" stroke-width="1.1" stroke-opacity="0.5"/>
<polygon points="275.7,189.3 269.7,187.70000000000002 269.7,190.9" fill="#F05A64"/>
<text x="464.8" y="113" class="an" style="font-size:9.3px" fill="#6478FA">min. shift</text>
<text x="469.1" y="131.7" class="an" style="font-size:9.1px" fill="#6478FA">Lower Z<tspan dy="2.6" font-size="6.5">2</tspan></text>
<line x1="472.9" y1="120.4" x2="501.9" y2="120.4" stroke="#6478FA" stroke-width="1.1" stroke-opacity="0.5"/>
<polygon points="467.9,120.4 473.9,118.80000000000001 473.9,122.0" fill="#6478FA"/>
<text x="591.2" y="181.3" class="an" style="font-size:9.3px" fill="#F05A64">min. shift</text>
<text x="593.6" y="198.9" class="an" style="font-size:9.3px" fill="#F05A64">Higher Z<tspan dy="2.6" font-size="6.5">2</tspan></text>
<line x1="592.1" y1="186.8" x2="620" y2="186.8" stroke="#F05A64" stroke-width="1.1" stroke-opacity="0.5"/>
<polygon points="625,186.8 619,185.20000000000002 619,188.4" fill="#F05A64"/>
<text x="95.6" y="401" class="an" style="font-size:9.3px" fill="#6478FA">min. shift</text>
<text x="101.0" y="420.5" class="an" style="font-size:9.3px" fill="#6478FA">Lower B<tspan dy="2.6" font-size="6.5">ji</tspan></text>
<line x1="104.1" y1="407.5" x2="132" y2="407.5" stroke="#6478FA" stroke-width="1.1" stroke-opacity="0.5"/>
<polygon points="99.1,407.5 105.1,405.9 105.1,409.1" fill="#6478FA"/>
<text x="245.6" y="472.7" class="an" style="font-size:9.3px" fill="#F05A64">min. shift</text>
<text x="245.2" y="490.8" class="an" style="font-size:9.3px" fill="#F05A64">Higher B<tspan dy="2.6" font-size="6.5">ji</tspan></text>
<line x1="249.4" y1="477.8" x2="278.6" y2="477.8" stroke="#F05A64" stroke-width="1.1" stroke-opacity="0.5"/>
<polygon points="283.6,477.8 277.6,476.2 277.6,479.40000000000003" fill="#F05A64"/>
<text x="533.4" y="385.8" class="an" style="font-size:9.3px" fill="#6478FA">min. shift</text>
<text x="533.9" y="405" class="an" style="font-size:9.3px" fill="#6478FA">Lower B<tspan dy="2.6" font-size="6.5">ij</tspan></text>
<line x1="536.8" y1="392.1" x2="561.6" y2="392.1" stroke="#6478FA" stroke-width="1.1" stroke-opacity="0.5"/>
<polygon points="566.6,392.1 560.6,390.5 560.6,393.70000000000005" fill="#6478FA"/>
<text x="427.1" y="476.2" class="an" style="font-size:9.3px" fill="#F05A64">min. shift</text>
<text x="427.6" y="494.6" class="an" style="font-size:9.3px" fill="#F05A64">Higher B<tspan dy="2.6" font-size="6.5">ij</tspan></text>
<line x1="432" y1="482.5" x2="461" y2="482.5" stroke="#F05A64" stroke-width="1.1" stroke-opacity="0.5"/>
<polygon points="427,482.5 433,480.9 433,484.1" fill="#F05A64"/>
</svg></body></html>
